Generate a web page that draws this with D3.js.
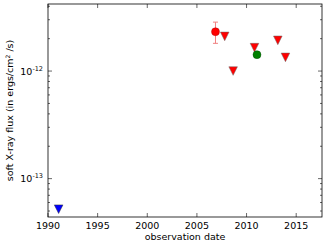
<!DOCTYPE html>
<html>
<head>
<meta charset="utf-8">
<script src="https://cdn.jsdelivr.net/npm/d3@7"></script>
<style>
  body { margin: 0; background: #fff; }
  text { font-family: "DejaVu Sans", sans-serif; }
</style>
</head>
<body>
<div id="chart"></div>
<script>
const WIDTH = 327;
const HEIGHT = 246;

const PLOT = { left: 48, right: 322, top: 4, bottom: 217 };

const XDOMAIN = [1990, 2017.6];
const YDOMAIN = [4.4e-14, 4.2e-12];

const XTICKS = [1990, 1995, 2000, 2005, 2010, 2015];
const YTICKS = [1e-13, 1e-12];
const YTICK_EXP = ["-13", "-12"];

// detections with error bar (red circle)
const detYear = [2006.87];
const detFlux = [2.32e-12];
const detLow = [1.81e-12];
const detHigh = [2.85e-12];

// detection without error bar (green circle)
const greenYear = [2011.05];
const greenFlux = [1.42e-12];

// upper limits (red triangles)
const ulYear = [2007.8, 2008.65, 2010.8, 2013.15, 2013.92];
const ulFlux = [2.1e-12, 1.0e-12, 1.65e-12, 1.93e-12, 1.34e-12];

// old upper limit (blue triangle)
const blueYear = [1991.07];
const blueFlux = [5.2e-14];

const svg = d3.select("#chart").append("svg")
    .attr("width", WIDTH)
    .attr("height", HEIGHT);

svg.append("rect")
    .attr("width", WIDTH)
    .attr("height", HEIGHT)
    .attr("fill", "#fff");

const x = d3.scaleLinear().domain(XDOMAIN).range([PLOT.left, PLOT.right]);
const y = d3.scaleLog().domain(YDOMAIN).range([PLOT.bottom, PLOT.top]);

// minor log ticks
const minor = [];
for (let e = -14; e <= -12; e++) {
    for (let m = 2; m <= 9; m++) {
        const v = m * Math.pow(10, e);
        if (v >= YDOMAIN[0] && v <= YDOMAIN[1]) minor.push(v);
    }
}

const ticks = svg.append("g").attr("stroke", "#000").attr("stroke-width", 0.6);

// x ticks bottom and top, pointing inward
XTICKS.forEach(t => {
    ticks.append("line").attr("x1", x(t)).attr("x2", x(t))
        .attr("y1", PLOT.bottom).attr("y2", PLOT.bottom - 4);
    ticks.append("line").attr("x1", x(t)).attr("x2", x(t))
        .attr("y1", PLOT.top).attr("y2", PLOT.top + 4);
});
// y major ticks
YTICKS.forEach(t => {
    ticks.append("line").attr("x1", PLOT.left).attr("x2", PLOT.left + 4)
        .attr("y1", y(t)).attr("y2", y(t));
    ticks.append("line").attr("x1", PLOT.right).attr("x2", PLOT.right - 4)
        .attr("y1", y(t)).attr("y2", y(t));
});
// y minor ticks
minor.forEach(t => {
    ticks.append("line").attr("x1", PLOT.left).attr("x2", PLOT.left + 2)
        .attr("y1", y(t)).attr("y2", y(t));
    ticks.append("line").attr("x1", PLOT.right).attr("x2", PLOT.right - 2)
        .attr("y1", y(t)).attr("y2", y(t));
});

// tick labels
svg.append("g").selectAll("text").data(XTICKS).join("text")
    .attr("x", d => x(d))
    .attr("y", PLOT.bottom + 12)
    .attr("text-anchor", "middle")
    .style("font-size", "9.5px")
    .text(d => d);

const yl = svg.append("g").selectAll("text").data(YTICKS).join("text")
    .attr("x", PLOT.left - 5)
    .attr("y", d => y(d) + 3.5)
    .attr("text-anchor", "end")
    .style("font-size", "9.5px");
yl.append("tspan").text("10");
yl.append("tspan").attr("dy", -4).style("font-size", "6.5px").text((d, i) => YTICK_EXP[i]);

// axis titles
svg.append("text")
    .attr("x", (PLOT.left + PLOT.right) / 2)
    .attr("y", 240)
    .attr("text-anchor", "middle")
    .style("font-size", "9.5px")
    .text("observation date");

const ylab = svg.append("text")
    .attr("transform", "translate(13," + ((PLOT.top + PLOT.bottom) / 2) + ") rotate(-90)")
    .attr("text-anchor", "middle")
    .style("font-size", "9.5px");
ylab.append("tspan").text("soft X-ray flux (in ergs/cm");
ylab.append("tspan").attr("dy", -3).style("font-size", "6px").text("2");
ylab.append("tspan").attr("dy", 3).text(" /s)");

// down triangle path centred on bbox
const tri = (r) => "M" + (-r) + "," + (-r) + "L" + r + "," + (-r) + "L0," + r + "Z";

// error bars
const eb = svg.append("g").attr("stroke", "#f08080").attr("stroke-width", 1);
detYear.forEach((d, i) => {
    eb.append("line").attr("x1", x(d)).attr("x2", x(d))
        .attr("y1", y(detLow[i])).attr("y2", y(detHigh[i]));
    eb.append("line").attr("x1", x(d) - 2.5).attr("x2", x(d) + 2.5)
        .attr("y1", y(detLow[i])).attr("y2", y(detLow[i]));
    eb.append("line").attr("x1", x(d) - 2.5).attr("x2", x(d) + 2.5)
        .attr("y1", y(detHigh[i])).attr("y2", y(detHigh[i]));
});

svg.append("g").selectAll("path").data(ulYear).join("path")
    .attr("transform", (d, i) => "translate(" + x(d) + "," + y(ulFlux[i]) + ")")
    .attr("d", tri(4.3))
    .attr("fill", "#f00")
    .attr("stroke", "#666")
    .attr("stroke-width", 0.5);

svg.append("g").selectAll("path").data(blueYear).join("path")
    .attr("transform", (d, i) => "translate(" + x(d) + "," + y(blueFlux[i]) + ")")
    .attr("d", tri(4.3))
    .attr("fill", "#00f")
    .attr("stroke", "#333")
    .attr("stroke-width", 0.5);

svg.append("g").selectAll("circle").data(detYear).join("circle")
    .attr("cx", d => x(d))
    .attr("cy", (d, i) => y(detFlux[i]))
    .attr("r", 4)
    .attr("fill", "#f00")
    .attr("stroke", "#a00")
    .attr("stroke-width", 0.4);

svg.append("g").selectAll("circle").data(greenYear).join("circle")
    .attr("cx", d => x(d))
    .attr("cy", (d, i) => y(greenFlux[i]))
    .attr("r", 4)
    .attr("fill", "#008000")
    .attr("stroke", "#004000")
    .attr("stroke-width", 0.4);

// frame
svg.append("rect")
    .attr("x", PLOT.left)
    .attr("y", PLOT.top)
    .attr("width", PLOT.right - PLOT.left)
    .attr("height", PLOT.bottom - PLOT.top)
    .attr("fill", "none")
    .attr("stroke", "#000")
    .attr("stroke-width", 0.8);
</script>
</body>
</html>
